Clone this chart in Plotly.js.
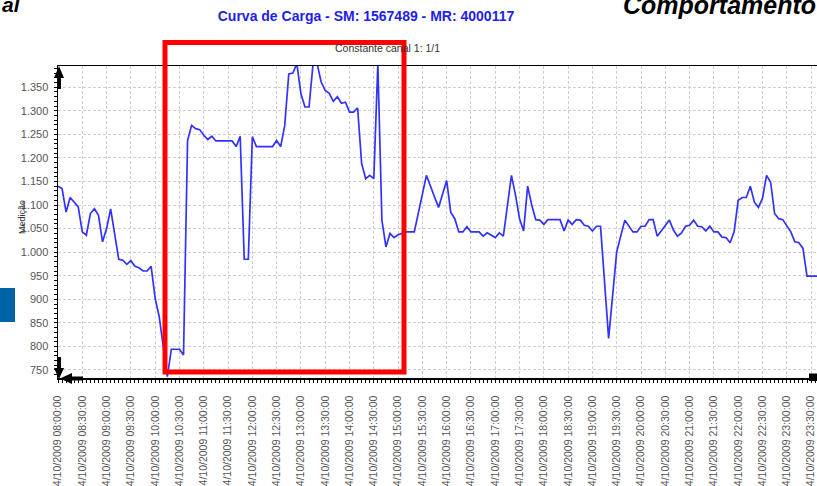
<!DOCTYPE html>
<html><head><meta charset="utf-8">
<script src="https://cdn.plot.ly/plotly-3.0.1.min.js"></script>
<style>html,body{margin:0;padding:0;background:#fff;overflow:hidden}#chart{width:817px;height:486px}</style>
</head><body><div id="chart"></div>
<script>
// Time of day (14/10/2009) of each reading vertex
const times = [
"08:00","08:05","08:10","08:15","08:25","08:30","08:35","08:40","08:45","08:50","08:55","09:00","09:05",
"09:15","09:20","09:25","09:30","09:35","09:40","09:45","09:50","09:55","10:00","10:05","10:15","10:20",
"10:30","10:35","10:40","10:45","10:50","10:55","11:00","11:05","11:10","11:15","11:35","11:40","11:45",
"11:50","11:55","12:00","12:05","12:25","12:30","12:35","12:40","12:45","12:50","12:55","13:00","13:05",
"13:10","13:15","13:20","13:25","13:30","13:35","13:40","13:45","13:50","13:55","14:00","14:05","14:10",
"14:15","14:20","14:25","14:30","14:35","14:40","14:45","14:50","14:55","15:00","15:10","15:20","15:35",
"15:45","15:50","16:00","16:05","16:10","16:15","16:20","16:25","16:30","16:40","16:45","16:50","17:00",
"17:05","17:10","17:20","17:25","17:30","17:35","17:40","17:45","17:50","17:55","18:00","18:05","18:20",
"18:25","18:30","18:35","18:40","18:45","18:50","18:55","19:00","19:05","19:10","19:20","19:30","19:40",
"19:45","19:50","19:55","20:00","20:05","20:10","20:15","20:20","20:25","20:35","20:40","20:45","20:50",
"20:55","21:00","21:05","21:10","21:15","21:20","21:25","21:30","21:35","21:40","21:45","21:50","21:55",
"22:00","22:05","22:10","22:15","22:20","22:25","22:30","22:35","22:40","22:45","22:50","22:55","23:05",
"23:10","23:15","23:20","23:25","23:35","23:40"];
// Medição (load) readings
const medicao = [
1140,1135,1085,1116,1096,1043,1036,1082,1092,1078,1022,1050,1092,
985,983,974,982,970,967,960,960,970,902,863,736,794,
794,782,1237,1269,1262,1260,1248,1239,1246,1236,1236,1224,1246,
985,985,1245,1224,1224,1237,1224,1269,1378,1380,1400,1336,1308,
1308,1400,1400,1361,1343,1337,1320,1330,1316,1318,1297,1297,1306,
1188,1156,1163,1156,1400,1068,1011,1040,1031,1037,1043,1043,1163,
1117,1095,1152,1085,1071,1043,1043,1054,1043,1043,1034,1041,1031,
1041,1034,1163,1121,1071,1045,1140,1100,1069,1068,1059,1069,1069,
1045,1068,1059,1069,1068,1057,1055,1045,1055,1055,817,1001,1068,
1055,1043,1043,1055,1055,1069,1069,1034,1045,1068,1047,1034,1041,
1055,1057,1068,1055,1054,1045,1055,1043,1043,1032,1031,1020,1043,
1110,1116,1116,1140,1106,1095,1114,1163,1149,1082,1071,1069,1043,
1022,1020,1008,949,949,949];
const tickLabels = [
"14/10/2009 08:00:00","14/10/2009 08:30:00","14/10/2009 09:00:00","14/10/2009 09:30:00",
"14/10/2009 10:00:00","14/10/2009 10:30:00","14/10/2009 11:00:00","14/10/2009 11:30:00",
"14/10/2009 12:00:00","14/10/2009 12:30:00","14/10/2009 13:00:00","14/10/2009 13:30:00",
"14/10/2009 14:00:00","14/10/2009 14:30:00","14/10/2009 15:00:00","14/10/2009 15:30:00",
"14/10/2009 16:00:00","14/10/2009 16:30:00","14/10/2009 17:00:00","14/10/2009 17:30:00",
"14/10/2009 18:00:00","14/10/2009 18:30:00","14/10/2009 19:00:00","14/10/2009 19:30:00",
"14/10/2009 20:00:00","14/10/2009 20:30:00","14/10/2009 21:00:00","14/10/2009 21:30:00",
"14/10/2009 22:00:00","14/10/2009 22:30:00","14/10/2009 23:00:00","14/10/2009 23:30:00"];
const yTicks = [750,800,850,900,950,1000,1050,1100,1150,1200,1250,1300,1350];

const day = "2009-10-14 ";
const xs = times.map(t => day + t);
const toIso = s => { const [d, tm] = s.split(" "); const [dd, mm, yy] = d.split("/"); return yy + "-" + mm + "-" + dd + " " + tm; };
const tickVals = tickLabels.map(toIso);

const W = 817, H = 486, L = 58, R = 0, T = 66, B = 108;
const pw = W - L - R, ph = H - T - B;
const fx = p => (p - L) / pw;
const fy = p => (H - B - p) / ph;
const poly = pts => "M " + pts.map(p => fx(p[0]) + "," + fy(p[1])).join(" L ") + " Z";

const FONT = "Arial, 'Liberation Sans', sans-serif";

const trace = {
  type: "scatter", mode: "lines", x: xs, y: medicao,
  line: {color: "rgb(50,50,255)", width: 1.7}, hoverinfo: "skip"
};

const arrowFill = {xref: "paper", yref: "paper", type: "path", fillcolor: "#000", line: {width: 0}};
const layout = {
  width: W, height: H, margin: {l: L, r: R, t: T, b: B, pad: 0},
  paper_bgcolor: "#fff", plot_bgcolor: "#fff", showlegend: false,
  separators: ",.",
  font: {family: FONT, color: "#444"},
  title: {text: "Curva de Carga - SM: 1567489 - MR: 4000117", xref: "container", yref: "container",
          x: 366 / W, xanchor: "center", y: 1 - 16 / H, yanchor: "middle",
          font: {family: FONT, size: 14, color: "rgb(30,30,235)", weight: "bold"}},
  xaxis: {
    type: "date", range: [day + "08:00:00", day + "23:37:20"],
    tickmode: "array", tickvals: tickVals, ticktext: tickLabels, tickangle: -90,
    tickfont: {family: FONT, size: 10.5, color: "#555"},
    ticks: "outside", ticklen: 3, tickcolor: "#000", ticklabelstandoff: 9,
    showline: true, linecolor: "#000", linewidth: 1.5, mirror: true,
    showgrid: true, gridcolor: "#cfcfcf", gridwidth: 1, griddash: "3px,2px",
    zeroline: false, fixedrange: true,
    minor: {ticks: "outside", ticklen: 3, tickcolor: "#000", dtick: 300000, tick0: day + "08:00:00", showgrid: false}
  },
  yaxis: {
    range: [733, 1395], tickmode: "array", tickvals: yTicks, tickformat: ",d",
    tickfont: {family: FONT, size: 11, color: "#555"},
    ticks: "outside", ticklen: 3, tickcolor: "#000", ticklabelstandoff: 3,
    showline: true, linecolor: "#000", linewidth: 1.5,
    showgrid: true, gridcolor: "#cfcfcf", gridwidth: 1, griddash: "3px,2px",
    zeroline: false, fixedrange: true,
    minor: {ticks: "outside", ticklen: 3, tickcolor: "#000", dtick: 10, tick0: 0, showgrid: false}
  },
  annotations: [
    {text: "Constante canal 1: 1/1", xref: "paper", yref: "paper", x: fx(387), y: fy(48),
     xanchor: "center", yanchor: "middle", showarrow: false, font: {family: FONT, size: 10.5, color: "#333"}},
    {text: "Medição", xref: "paper", yref: "paper", x: fx(22), y: fy(217), textangle: -90,
     xanchor: "center", yanchor: "middle", showarrow: false, font: {family: FONT, size: 9, color: "#333"}},
    {text: "<b><i>Comportamento</i></b>", xref: "paper", yref: "paper", x: fx(621), y: fy(5),
     xanchor: "left", yanchor: "middle", showarrow: false, font: {family: FONT, size: 25, color: "#000"}},
    {text: "<b><i>al</i></b>", xref: "paper", yref: "paper", x: fx(0), y: fy(4),
     xanchor: "left", yanchor: "middle", showarrow: false, font: {family: FONT, size: 21, color: "#000"}}
  ],
  shapes: [
    {type: "rect", xref: "paper", yref: "paper", x0: fx(0), x1: fx(15), y0: fy(322), y1: fy(288),
     fillcolor: "#0063a6", line: {width: 0}},
    {type: "rect", xref: "paper", yref: "paper", x0: fx(165), x1: fx(404), y0: fy(372), y1: fy(42.5),
     line: {color: "#ff0000", width: 5}, fillcolor: "rgba(0,0,0,0)"},
    Object.assign({path: poly([[59,66],[64,78],[61,78],[61,89],[57,89],[57,78],[54,78]])}, arrowFill),
    Object.assign({path: poly([[59,379],[64,368],[61,368],[61,357],[57,357],[57,368],[54,368]])}, arrowFill),
    Object.assign({path: poly([[60,378.5],[72,373],[72,376.5],[83,376.5],[83,380.5],[72,380.5],[72,384]])}, arrowFill),
    Object.assign({path: poly([[809,373.5],[817,373.5],[817,381],[809,381]])}, arrowFill)
  ]
};

Plotly.newPlot("chart", [trace], layout, {displayModeBar: false, staticPlot: true});
</script>
</body></html>
